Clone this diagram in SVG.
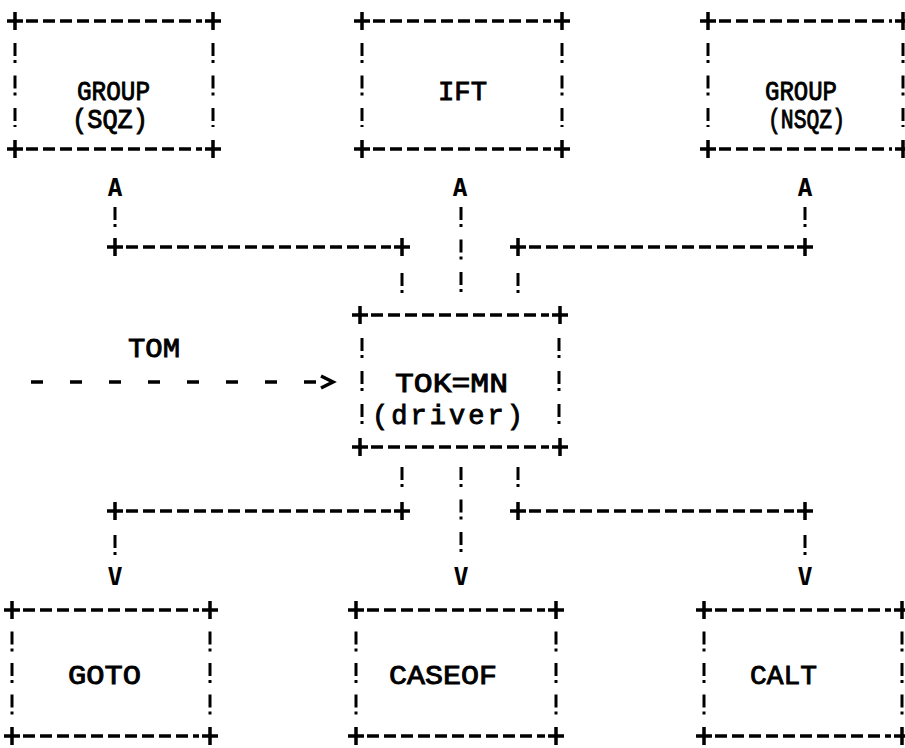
<svg xmlns="http://www.w3.org/2000/svg" width="905" height="748" viewBox="0 0 905 748">
<style>
.t{font-family:"Liberation Mono","DejaVu Sans Mono",monospace;font-size:27px;fill:#000;stroke:#000;stroke-width:0.9}
.a{font-family:"DejaVu Sans Mono","Liberation Mono",monospace;font-size:25px;font-weight:bold;fill:#000;text-anchor:middle}
.h{stroke:#000;stroke-width:3.5;stroke-dasharray:12 5;fill:none}
.v{stroke:#000;stroke-width:3;stroke-dasharray:13 4 3 12.5;fill:none}
.v2{stroke:#000;stroke-width:3;stroke-dasharray:13 4 3 13;fill:none}
.v3{stroke:#000;stroke-width:3;stroke-dasharray:13 4 3 11.5;fill:none}
.p{stroke:#000;stroke-width:3.5;fill:none}
</style>
<rect width="905" height="748" fill="#fff"/>

<g id="group-sqz">
<path class="p" d="M7 21h16M15 12v18M205 21h16M213 12v18M7 149h16M15 140v18M205 149h16M213 140v18"/>
<path class="h" d="M26 21H202M26 149H202"/>
<path class="v" d="M15 43V127M213 43V127"/>
<text class="t" x="77" y="100" textLength="73" lengthAdjust="spacingAndGlyphs">GROUP</text>
<text class="t" x="72" y="128" textLength="76" lengthAdjust="spacingAndGlyphs">(SQZ)</text>
</g>

<g id="ift">
<path class="p" d="M354 21h16M362 12v18M554 21h16M562 12v18M354 149h16M362 140v18M554 149h16M562 140v18"/>
<path class="h" d="M373 21H551M373 149H551"/>
<path class="v" d="M362 43V127M562 43V127"/>
<text class="t" x="438" y="100" textLength="49" lengthAdjust="spacingAndGlyphs">IFT</text>
</g>

<g id="group-nsqz">
<path class="p" d="M700 21h16M708 12v18M895 21h16M903 12v18M700 149h16M708 140v18M895 149h16M903 140v18"/>
<path class="h" d="M719 21H892M719 149H892"/>
<path class="v" d="M708 43V127M903 43V127"/>
<text class="t" x="765" y="100" textLength="72" lengthAdjust="spacingAndGlyphs">GROUP</text>
<text class="t" x="768" y="128" textLength="77" lengthAdjust="spacingAndGlyphs">(NSQZ)</text>
</g>

<g id="tokmn">
<path class="p" d="M352 315h16M360 306v18M552 315h16M560 306v18M352 447h16M360 438v18M552 447h16M560 438v18"/>
<path class="h" d="M371 315H549M371 447H549"/>
<path class="v2" d="M362 338V424M559 338V424"/>
<text class="t" x="395" y="392" textLength="113" lengthAdjust="spacingAndGlyphs">TOK=MN</text>
<text class="t" x="372" y="424" textLength="151" lengthAdjust="spacing">(driver)</text>
</g>

<g id="goto">
<path class="p" d="M4 610h16M12 601v18M202 610h16M210 601v18M4 736h16M12 727v18M202 736h16M210 727v18"/>
<path class="h" d="M23 610H199M23 736H199"/>
<path class="v3" d="M12 631.5V714.5M210 631.5V714.5"/>
<text class="t" x="68" y="684" textLength="73" lengthAdjust="spacingAndGlyphs">GOTO</text>
</g>

<g id="caseof">
<path class="p" d="M348 610h16M356 601v18M548 610h16M556 601v18M348 736h16M356 727v18M548 736h16M556 727v18"/>
<path class="h" d="M367 610H545M367 736H545"/>
<path class="v3" d="M356 631.5V714.5M556 631.5V714.5"/>
<text class="t" x="389" y="684" textLength="108" lengthAdjust="spacingAndGlyphs">CASEOF</text>
</g>

<g id="calt">
<path class="p" d="M696 610h16M704 601v18M894 610h16M902 601v18M696 736h16M704 727v18M894 736h16M902 727v18"/>
<path class="h" d="M715 610H891M715 736H891"/>
<path class="v3" d="M704 631.5V714.5M902 631.5V714.5"/>
<text class="t" x="750" y="684" textLength="67" lengthAdjust="spacingAndGlyphs">CALT</text>
</g>

<g id="tom-label">
<text class="t" x="128" y="357" textLength="52" lengthAdjust="spacingAndGlyphs">TOM</text>
</g>

<g id="connectors">
<text class="a" x="115" y="196">A</text>
<text class="a" x="460" y="196">A</text>
<text class="a" x="805" y="196">A</text>
<path class="v" d="M115 207V227M461 207V293M805 207V227M402 273V293M518 273V293"/>
<path class="p" d="M107 247h16M115 238v18M394 247h16M402 238v18M510 247h16M518 238v18M797 247h16M805 238v18"/>
<path class="h" d="M126 247H391M529 247H794"/>
<path class="v" d="M402 467V487M461 467V555M518 467V487M115 535V555M805 535V555"/>
<path class="p" d="M107 511h16M115 502v18M394 511h16M402 502v18M510 511h16M518 502v18M797 511h16M805 502v18"/>
<path class="h" d="M126 511H391M529 511H794"/>
<text class="a" x="115" y="585">V</text>
<text class="a" x="461" y="585">V</text>
<text class="a" x="805" y="585">V</text>
<path d="M31 382H316" style="stroke:#000;stroke-width:3.5;stroke-dasharray:12 27;fill:none"/>
<path class="p" d="M321 376L333 382L321 388"/>
</g>
</svg>
